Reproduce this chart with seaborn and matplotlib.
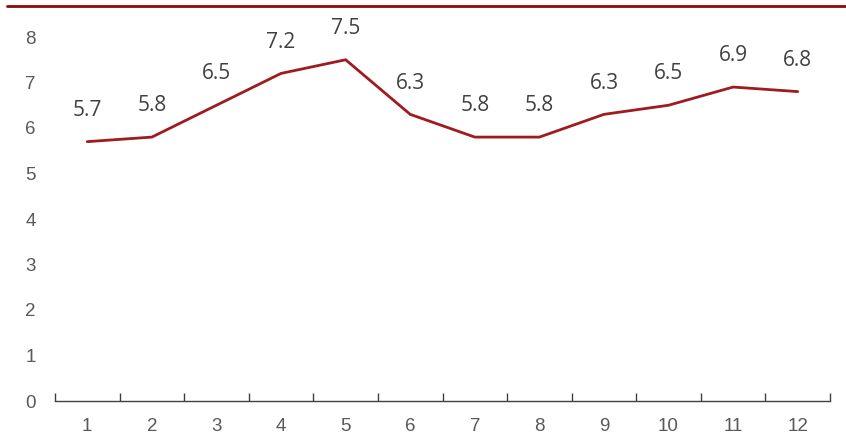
import matplotlib
matplotlib.use("Agg")
import matplotlib.pyplot as plt
from matplotlib.lines import Line2D
from matplotlib.ticker import FixedLocator
import seaborn as sns
import pandas as pd

months = ["1", "2", "3", "4", "5", "6", "7", "8", "9", "10", "11", "12"]
values = [5.7, 5.8, 6.5, 7.2, 7.5, 6.3, 5.8, 5.8, 6.3, 6.5, 6.9, 6.8]
y_ticks = [0, 1, 2, 3, 4, 5, 6, 7, 8]

sns.set_theme(style="white")
plt.rcParams["font.family"] = ["Liberation Sans", "DejaVu Sans"]

df = pd.DataFrame({"pos": range(len(months)), "value": values})

fig = plt.figure(figsize=(8.46, 4.4), dpi=100)
ax = fig.add_axes([55 / 846, 39 / 440, 775 / 846, 364 / 440])

sns.lineplot(data=df, x="pos", y="value", ax=ax, color="#9E1B1E", linewidth=2)

for i, v in enumerate(values):
    ax.annotate(f"{v:.1f}", (i, v), xytext=(0, 15), textcoords="offset points",
                ha="center", va="bottom", fontsize=15, color="#404040",
                family=["Liberation Sans Narrow", "Open Sans", "DejaVu Sans"],
                annotation_clip=False)

ax.set_xlim(-0.5, len(months) - 0.5)
ax.set_ylim(0, 8)
ax.set_yticks(y_ticks)
ax.set_yticklabels([str(t) for t in y_ticks])

# category boundaries carry the tick marks, centers carry the labels
ax.xaxis.set_major_locator(FixedLocator([i - 0.5 for i in range(len(months) + 1)]))
ax.xaxis.set_minor_locator(FixedLocator(list(range(len(months)))))
ax.set_xticklabels([""] * (len(months) + 1))
ax.set_xticklabels(months, minor=True)
ax.tick_params(axis="x", which="major", bottom=True, direction="in", length=6,
               width=1, color="#404040")
ax.tick_params(axis="x", which="minor", bottom=True, length=0, pad=12,
               labelsize=13.5, labelcolor="#595959")
ax.tick_params(axis="y", length=0, pad=14, labelsize=13.5, labelcolor="#595959")

ax.set_xlabel("")
ax.set_ylabel("")
for side in ["top", "right", "left"]:
    ax.spines[side].set_visible(False)
ax.spines["bottom"].set_color("#404040")
ax.spines["bottom"].set_linewidth(1)

# header rule across the top of the figure
fig.add_artist(Line2D([7 / 846, 1], [1 - 6 / 440, 1 - 6 / 440], transform=fig.transFigure,
                      color="#8B0A0A", linewidth=2))

fig.savefig("out.png", dpi=100)
